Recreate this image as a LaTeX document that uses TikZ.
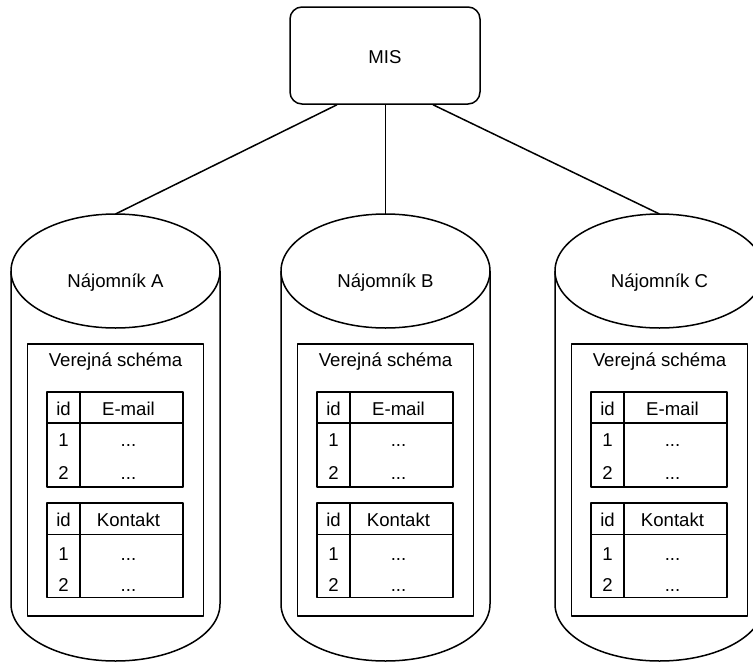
\documentclass[tikz,border=0pt]{standalone}
\usepackage{fontspec}
\setmainfont{Liberation Sans}
\usetikzlibrary{calc}
\tikzset{
  ln/.style={line width=1.5pt, line join=round},
  txt/.style={font=\fontsize{18.6}{22}\selectfont, inner sep=0pt, anchor=base},
  misbox/.style={draw, line width=1.5pt, rounded corners=12pt, minimum width=190pt, minimum height=97pt, inner sep=0pt},
}
\newcommand\tenant[3]{%
\begin{scope}[shift={(#1,0)}]
  \draw[ln] (-104.5,271) -- (-104.5,604) arc[start angle=180,end angle=0,x radius=104.5,y radius=57] -- (104.5,271);
  \draw[ln] (0,271) ellipse[x radius=104.5,y radius=57];
  \coordinate (top#2) at (0,214);
  \node[txt] (lab#2) at (0,287.3) {#3};
  % schema
  \draw[ln] (-88,344) rectangle (88,616);
  \node[txt] (sch#2) at (0,366.7) {Verejná schéma};
  % table 1
  \draw[ln] (-68.5,392) rectangle (67.5,487);
  \draw[ln] (-68.5,423) -- (67.5,423);
  \draw[ln] (-35.5,392) -- (-35.5,487);
  \node[txt] (ta#2) at (-52,415.8) {id};
  \node[txt] (tb#2) at (13,415.8) {E-mail};
  \node[txt] (tc#2) at (-52,446.7) {1};
  \node[txt] (td#2) at (13,446.7) {...};
  \node[txt] (te#2) at (-52,479.3) {2};
  \node[txt] (tf#2) at (13,479.3) {...};
  % table 2
  \draw[ln] (-68.5,503) rectangle (67.5,597.5);
  \draw[ln] (-68.5,534.5) -- (67.5,534.5);
  \draw[ln] (-35.5,503) -- (-35.5,597.5);
  \node[txt] (ua#2) at (-52,526.7) {id};
  \node[txt] (ub#2) at (13,526.7) {Kontakt};
  \node[txt] (uc#2) at (-52,560) {1};
  \node[txt] (ud#2) at (13,560) {...};
  \node[txt] (ue#2) at (-52,591.7) {2};
  \node[txt] (uf#2) at (13,591.7) {...};
\end{scope}}
\begin{document}
\begin{tikzpicture}[x=1pt,y=-1pt]
  \useasboundingbox (0,0) rectangle (753,662);
  \clip (0,0) rectangle (753,662);
  \fill[white] (0,0) rectangle (753,662);
  \node[misbox] (mis) at (385,55.5) {};
  \node[txt] (mistext) at (385,63.3) {MIS};
  \tenant{115.5}{A}{Nájomník A}
  \tenant{385.5}{B}{Nájomník B}
  \tenant{659.5}{C}{Nájomník C}
  \draw[ln] ($(mis.south)+(-48,0)$) -- (topA);
  \draw[ln] (mis.south -| topB) -- (topB);
  \draw[ln] ($(mis.south)+(48,0)$) -- (topC);
\end{tikzpicture}
\end{document}
